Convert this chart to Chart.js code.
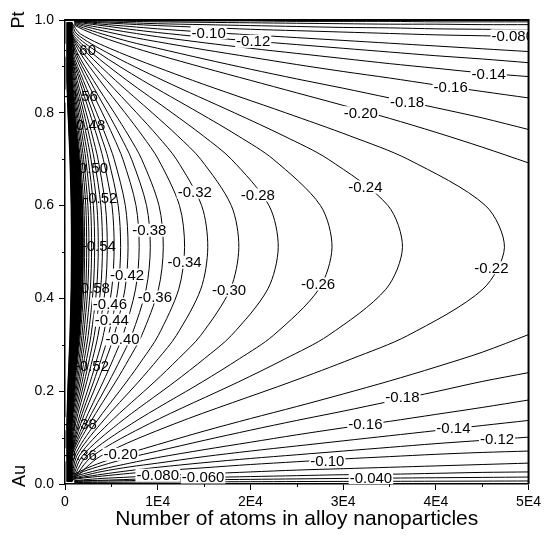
<!DOCTYPE html>
<html>
<head>
<meta charset="utf-8">
<script src="https://cdn.jsdelivr.net/npm/chart.js@4.4.0/dist/chart.umd.min.js"></script>
<style>
html, body { margin: 0; padding: 0; background: #fff; }
#wrap { width: 545px; height: 537px; }
</style>
</head>
<body>
<div id="wrap"><canvas id="myChart"></canvas></div>
<script>
const FONT = '"Liberation Sans", Arial, sans-serif';

// axis ticks
const xTickLabels = ['0', '1E4', '2E4', '3E4', '4E4', '5E4'];
const yTickLabels = ['0.0', '0.2', '0.4', '0.6', '0.8', '1.0'];
const xMinor = [5000, 15000, 25000, 35000, 45000];
const yMinor = [0.1, 0.3, 0.5, 0.7, 0.9];

// closed (C shaped) contours: Pt fraction along the curve, atoms for each level
const compC = [0.995, 0.97, 0.93, 0.87, 0.80, 0.75, 0.70, 0.60, 0.51, 0.42, 0.32, 0.27, 0.22, 0.13, 0.06, 0.005];
const cLevels = [-0.22, -0.24, -0.26, -0.28, -0.30, -0.32, -0.34, -0.36, -0.38, -0.40, -0.42,
                 -0.44, -0.46, -0.48, -0.50, -0.52, -0.54, -0.56, -0.58, -0.60, -0.62];
const cAtoms = [
    [700, 1660, 5880, 13750, 23800, 30760, 36970, 45360, 47400, 45080, 36970, 30950, 24360, 11850, 3840, 700],
    [700, 1270, 4510, 10560, 18270, 23620, 28390, 34840, 36400, 34620, 28390, 23770, 18710, 9100, 2950, 700],
    [700, 1010, 3570, 8350, 14460, 18690, 22460, 27560, 28800, 27390, 22460, 18810, 14800, 7200, 2330, 700],
    [700, 805, 2850, 6670, 11550, 14930, 17940, 22010, 23000, 21870, 17940, 15020, 11820, 5750, 1860, 700],
    [700, 700, 2330, 5440, 9410, 12170, 14630, 17940, 18750, 17830, 14630, 12240, 9640, 4690, 1520, 700],
    [700, 700, 1910, 4470, 7730, 9990, 12010, 14740, 15400, 14650, 12010, 10060, 7920, 3850, 1250, 700],
    [700, 700, 1600, 3740, 6480, 8370, 10060, 12350, 12900, 12270, 10060, 8420, 6630, 3230, 1045, 700],
    [700, 700, 1310, 3070, 5320, 6880, 8270, 10140, 10600, 10080, 8270, 6920, 5450, 2650, 860, 700],
    [700, 700, 1140, 2670, 4620, 5970, 7180, 8800, 9200, 8750, 7180, 6010, 4730, 2300, 745, 700],
    [700, 700, 990, 2320, 4020, 5190, 6240, 7660, 8000, 7610, 6240, 5220, 4110, 2000, 700, 700],
    [700, 700, 843, 1970, 3410, 4410, 5300, 6510, 6800, 6470, 5300, 4440, 3500, 1700, 700, 700],
    [700, 700, 744, 1740, 3010, 3890, 4680, 5740, 6000, 5710, 4680, 3920, 3080, 1500, 700, 700],
    [700, 700, 700, 1540, 2660, 3440, 4130, 5070, 5300, 5040, 4130, 3460, 2720, 1325, 700, 700],
    [700, 700, 700, 1320, 2290, 2960, 3560, 4360, 4560, 4340, 3560, 2980, 2340, 1140, 700, 700],
    [700, 700, 700, 1170, 2030, 2620, 3150, 3870, 4040, 3840, 3150, 2640, 2080, 1010, 700, 700],
    [700, 700, 700, 1040, 1800, 2330, 2800, 3440, 3590, 3410, 2800, 2340, 1850, 900, 700, 700],
    [700, 700, 700, 930, 1610, 2080, 2500, 3060, 3200, 3040, 2500, 2090, 1645, 800, 700, 700],
    [700, 700, 700, 830, 1440, 1860, 2240, 2750, 2870, 2730, 2240, 1870, 1475, 720, 700, 700],
    [700, 700, 700, 750, 1300, 1670, 2010, 2470, 2580, 2450, 2010, 1690, 1330, 700, 700, 700],
    [700, 700, 700, 700, 1175, 1520, 1825, 2240, 2340, 2230, 1825, 1530, 1200, 700, 700, 700],
    [700, 700, 700, 700, 1065, 1380, 1650, 2030, 2120, 2020, 1650, 1385, 1090, 700, 700, 700]
];

// the dense black band at small sizes
const bandLevels = [-0.64, -0.66, -0.68, -0.70, -0.72, -0.74, -0.76, -0.78, -0.80, -0.82, -0.84, -0.86, -0.88];
const bandAtoms = [
    [700, 700, 700, 700, 966, 1249, 1501, 1841, 1924, 1830, 1501, 1256, 989, 700, 700, 700],
    [660, 660, 660, 660, 881, 1138, 1368, 1679, 1754, 1668, 1368, 1145, 902, 660, 660, 660],
    [620, 620, 620, 620, 806, 1042, 1252, 1536, 1605, 1526, 1252, 1048, 825, 620, 620, 620],
    [590, 590, 590, 590, 738, 954, 1147, 1407, 1470, 1398, 1147, 960, 756, 590, 590, 590],
    [550, 550, 550, 550, 679, 877, 1055, 1294, 1352, 1286, 1055, 883, 695, 550, 550, 550],
    [510, 510, 510, 510, 625, 808, 971, 1191, 1245, 1184, 971, 813, 640, 510, 510, 510],
    [480, 480, 480, 480, 577, 746, 896, 1100, 1149, 1093, 896, 750, 591, 480, 480, 480],
    [440, 440, 440, 440, 534, 690, 829, 1017, 1063, 1011, 829, 694, 546, 440, 440, 440],
    [400, 400, 400, 400, 494, 639, 768, 943, 985, 937, 768, 643, 506, 400, 400, 400],
    [370, 370, 370, 370, 459, 594, 714, 876, 915, 870, 714, 598, 470, 370, 370, 370],
    [330, 330, 330, 330, 427, 552, 664, 814, 851, 809, 664, 556, 437, 330, 330, 330],
    [290, 290, 290, 290, 398, 515, 619, 759, 793, 754, 619, 518, 408, 290, 290, 290],
    [250, 250, 250, 250, 371, 480, 577, 708, 740, 704, 577, 483, 380, 250, 250, 250]
];

// open contours leaving through the right edge: Pt fraction at each size
const fanAtoms = [1000, 2000, 4000, 7000, 10000, 15000, 20000, 25000, 30000, 35000, 40000, 45000, 50000];
const fanLevels = [-0.20, -0.18, -0.16, -0.14, -0.12, -0.10, -0.08, -0.06, -0.04, -0.02];
const fanTop = [
    [0.989, 0.979, 0.963, 0.943, 0.925, 0.897, 0.870, 0.843, 0.816, 0.788, 0.758, 0.726, 0.692],
    [0.991, 0.983, 0.970, 0.953, 0.939, 0.916, 0.894, 0.873, 0.853, 0.832, 0.811, 0.789, 0.764],
    [0.993, 0.987, 0.977, 0.964, 0.953, 0.936, 0.920, 0.904, 0.889, 0.875, 0.860, 0.846, 0.832],
    [0.995, 0.990, 0.983, 0.973, 0.964, 0.951, 0.939, 0.928, 0.917, 0.906, 0.896, 0.886, 0.878],
    [0.996, 0.993, 0.988, 0.980, 0.973, 0.963, 0.955, 0.947, 0.939, 0.931, 0.923, 0.916, 0.908],
    [0.997, 0.995, 0.991, 0.986, 0.981, 0.974, 0.968, 0.962, 0.956, 0.950, 0.944, 0.938, 0.932],
    [0.998, 0.996, 0.994, 0.991, 0.988, 0.984, 0.980, 0.977, 0.974, 0.971, 0.968, 0.966, 0.964],
    [0.9985, 0.997, 0.996, 0.994, 0.992, 0.990, 0.988, 0.986, 0.984, 0.983, 0.981, 0.980, 0.979],
    [0.999, 0.998, 0.998, 0.997, 0.996, 0.995, 0.994, 0.993, 0.992, 0.991, 0.991, 0.990, 0.990],
    [0.9995, 0.999, 0.999, 0.999, 0.998, 0.998, 0.998, 0.997, 0.997, 0.997, 0.996, 0.996, 0.996]
];
const fanBottom = [
    [0.021, 0.031, 0.047, 0.067, 0.085, 0.114, 0.141, 0.167, 0.194, 0.222, 0.252, 0.284, 0.322],
    [0.018, 0.027, 0.040, 0.057, 0.071, 0.094, 0.116, 0.137, 0.157, 0.178, 0.199, 0.221, 0.240],
    [0.016, 0.022, 0.032, 0.045, 0.057, 0.074, 0.090, 0.106, 0.121, 0.135, 0.150, 0.165, 0.181],
    [0.013, 0.018, 0.027, 0.037, 0.045, 0.059, 0.071, 0.082, 0.093, 0.104, 0.115, 0.126, 0.137],
    [0.012, 0.015, 0.021, 0.029, 0.036, 0.046, 0.055, 0.063, 0.071, 0.079, 0.087, 0.094, 0.101],
    [0.010, 0.013, 0.017, 0.023, 0.028, 0.035, 0.042, 0.048, 0.054, 0.059, 0.064, 0.068, 0.071],
    [0.007, 0.009, 0.012, 0.015, 0.018, 0.022, 0.026, 0.030, 0.033, 0.036, 0.039, 0.042, 0.045],
    [0.006, 0.007, 0.008, 0.010, 0.012, 0.014, 0.016, 0.018, 0.020, 0.021, 0.023, 0.025, 0.026],
    [0.005, 0.006, 0.0064, 0.0073, 0.008, 0.0092, 0.010, 0.011, 0.012, 0.0127, 0.0135, 0.0142, 0.015],
    [0.003, 0.0033, 0.0036, 0.004, 0.0043, 0.0047, 0.005, 0.0053, 0.0056, 0.0058, 0.006, 0.0062, 0.0065]
];

// contour labels (placed on the lines)
const labelText = ['-0.10', '-0.12', '-0.080', '-0.14', '-0.16', '-0.18', '-0.20', '-0.24', '-0.22',
                   '-0.18', '-0.16', '-0.14', '-0.12', '-0.10', '-0.040', '-0.080', '-0.060', '-0.20',
                   '-0.32', '-0.28', '-0.38', '-0.34', '-0.30', '-0.26', '-0.42', '-0.36', '-0.40', '-0.44', '-0.46'];
const labelAtoms = [15500, 20300, 48300, 45700, 41600, 36900, 31900, 32400, 46000,
                    36400, 32400, 41900, 46600, 28300, 33000, 10000, 14900, 6000,
                    14000, 20800, 9100, 12900, 17700, 27300, 6700, 9700, 6200, 5050, 4850];
const labelComp = [0.973, 0.954, 0.966, 0.885, 0.855, 0.824, 0.80, 0.64, 0.466,
                   0.188, 0.13, 0.12, 0.097, 0.05, 0.0135, 0.019, 0.015, 0.064,
                   0.629, 0.623, 0.547, 0.478, 0.418, 0.431, 0.45, 0.403, 0.3125, 0.353, 0.388];

// labels buried in the black band
const bandLabelText = ['-0.60', '-0.56', '-0.48', '-0.50', '-0.52', '-0.54', '-0.58', '-0.52', '-0.38', '-0.36'];
const bandLabelAtoms = [1500, 1700, 2500, 2800, 3800, 3650, 3000, 2900, 1600, 1600];
const bandLabelComp = [0.935, 0.836, 0.774, 0.681, 0.616, 0.513, 0.422, 0.254, 0.13, 0.063];

const lineStyle = { showLine: true, borderColor: '#000', borderWidth: 1, pointRadius: 0, tension: 0.3, fill: false };
const datasets = [];
cAtoms.forEach((row, k) => datasets.push({
    label: String(cLevels[k]), data: row.map((n, i) => ({ x: n, y: compC[i] })), ...lineStyle
}));
bandAtoms.forEach((row, k) => datasets.push({
    label: String(bandLevels[k]), data: row.map((n, i) => ({ x: n, y: compC[i] })), ...lineStyle, borderWidth: 2
}));
fanTop.forEach((row, k) => datasets.push({
    label: String(fanLevels[k]), data: row.map((c, i) => ({ x: fanAtoms[i], y: c })), ...lineStyle
}));
fanBottom.forEach((row, k) => datasets.push({
    label: String(fanLevels[k]), data: row.map((c, i) => ({ x: fanAtoms[i], y: c })), ...lineStyle
}));

function drawLabels(chart, texts, atoms, comps) {
    const { ctx, chartArea: a, scales: { x, y } } = chart;
    ctx.save();
    ctx.beginPath();
    ctx.rect(a.left, a.top, a.right - a.left, a.bottom - a.top);
    ctx.clip();
    ctx.font = '15px ' + FONT;
    ctx.textAlign = 'center';
    ctx.textBaseline = 'middle';
    texts.forEach((t, i) => {
        const px = x.getPixelForValue(atoms[i]);
        const py = y.getPixelForValue(comps[i]);
        const w = ctx.measureText(t).width;
        ctx.fillStyle = '#fff';
        ctx.fillRect(px - w / 2 - 1, py - 6.5, w + 2, 13);
        ctx.fillStyle = '#000';
        ctx.fillText(t, px, py + 1);
    });
    ctx.restore();
}

const contourDecor = {
    id: 'contourDecor',
    beforeDatasetsDraw(chart) {
        drawLabels(chart, bandLabelText, bandLabelAtoms, bandLabelComp);
    },
    afterDatasetsDraw(chart) {
        drawLabels(chart, labelText, labelAtoms, labelComp);
    },
    afterDraw(chart) {
        const { ctx, chartArea: a, scales: { x, y } } = chart;
        ctx.save();
        ctx.strokeStyle = '#000';
        ctx.lineWidth = 1;
        xMinor.forEach(v => {
            const px = Math.round(x.getPixelForValue(v)) + 0.5;
            ctx.beginPath(); ctx.moveTo(px, a.bottom); ctx.lineTo(px, a.bottom + 3); ctx.stroke();
        });
        yMinor.forEach(v => {
            const py = Math.round(y.getPixelForValue(v)) + 0.5;
            ctx.beginPath(); ctx.moveTo(a.left, py); ctx.lineTo(a.left - 3, py); ctx.stroke();
        });
        // top and right frame
        ctx.lineWidth = 2;
        ctx.beginPath();
        ctx.moveTo(a.left, a.top); ctx.lineTo(a.right, a.top); ctx.lineTo(a.right, a.bottom);
        ctx.stroke();
        // end labels of the composition axis
        ctx.fillStyle = '#000';
        ctx.font = '18px ' + FONT;
        ctx.textAlign = 'center';
        ctx.textBaseline = 'middle';
        ctx.translate(19, a.top);
        ctx.rotate(-Math.PI / 2);
        ctx.fillText('Pt', 0, 0);
        ctx.rotate(Math.PI / 2);
        ctx.translate(1, a.bottom - a.top - 8);
        ctx.rotate(-Math.PI / 2);
        ctx.fillText('Au', 0, 0);
        ctx.restore();
    }
};

const ctx = document.getElementById('myChart');

const myChart = new Chart(ctx, {
    type: 'scatter',
    data: { datasets: datasets },
    options: {
        animation: false,
        responsive: true,
        maintainAspectRatio: false,
        layout: { padding: { left: 8, top: 20, right: 16, bottom: 5 } },
        plugins: { legend: { display: false }, tooltip: { enabled: false } },
        scales: {
            x: {
                type: 'linear', min: 0, max: 50000,
                afterFit: s => { s.height = 48; },
                ticks: {
                    stepSize: 10000, maxRotation: 0, padding: 4, color: '#000',
                    font: { size: 14, family: FONT },
                    callback: (v, i) => xTickLabels[i]
                },
                grid: { drawOnChartArea: false, tickLength: 6, color: '#000' },
                border: { color: '#000', width: 1.5 },
                title: {
                    display: true, text: 'Number of atoms in alloy nanoparticles', color: '#000',
                    font: { size: 21, family: FONT }, padding: { top: 0, bottom: 0 }
                }
            },
            y: {
                type: 'linear', min: 0, max: 1,
                afterFit: s => { s.width = 57; },
                ticks: {
                    stepSize: 0.2, padding: 5, color: '#000',
                    font: { size: 14, family: FONT },
                    callback: (v, i) => yTickLabels[i]
                },
                grid: { drawOnChartArea: false, tickLength: 6, color: '#000' },
                border: { color: '#000', width: 1.5 }
            }
        }
    },
    plugins: [contourDecor]
});
</script>
</body>
</html>
